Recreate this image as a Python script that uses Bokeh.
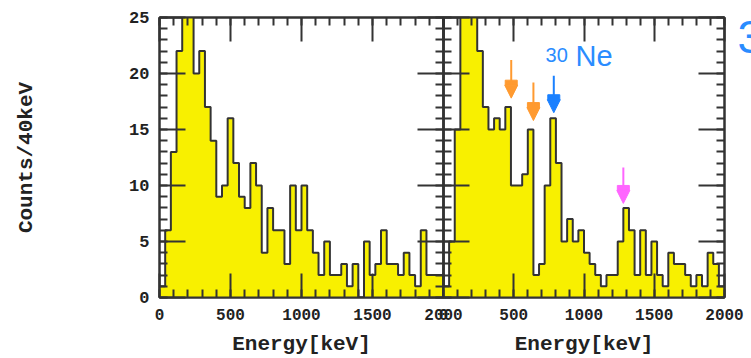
import numpy as np
from bokeh.plotting import figure
from bokeh.models import (ColumnDataSource, LinearAxis, SingleIntervalTicker, Range1d,
                          Label, Arrow, NormalHead)
from bokeh.layouts import row
from bokeh.embed import file_html
from bokeh.resources import INLINE

# ---------------- data (counts per 40 keV bin, 0-2000 keV) ----------------
BIN_WIDTH = 40
left_counts = [1, 6, 13, 22, 27, 27, 20, 22, 17, 14,
               9, 10, 16, 12, 9, 8, 12, 10, 4, 8,
               6, 6, 3, 10, 6, 10, 6, 4, 2, 5,
               2, 2, 3, 1, 3, 0, 5, 2, 3, 6,
               3, 3, 2, 4, 2, 1, 6, 2, 2, 2]
right_counts = [1, 5, 15, 27, 27, 27, 22, 17, 15, 16,
                15, 17, 10, 10, 11, 15, 2, 3, 10, 16,
                12, 5, 7, 5, 6, 4, 3, 2, 1, 2,
                2, 5, 8, 6, 2, 6, 2, 5, 2, 1,
                4, 3, 3, 2, 1, 2, 1, 4, 3, 1]
x_tick_interval = 500
y_tick_interval = 5

# arrows marking gamma lines in the right panel (energy, shaft top, tip)
arrow_energy = [482, 640, 785, 1280]
arrow_top = [21.2, 19.2, 19.8, 11.6]
arrow_tip = [17.8, 15.8, 16.5, 8.4]
arrow_color = ["#ff9a30", "#ff9a30", "#1a80ff", "#ff66ff"]

YELLOW = "#f8f000"
INK = "#333333"
BLUE = "#2a8cff"
FONT = "Liberation Mono"

H = 358
OVER = 30      # overlap so the shared "2000"/"0" labels are not clipped
RIGHT_PAD = 27


def style_axis(ax, interval, tick_in, labels, size="16px"):
    ax.ticker = SingleIntervalTicker(interval=interval, num_minor_ticks=5)
    ax.major_tick_in = tick_in
    ax.major_tick_out = 0
    ax.minor_tick_in = 8
    ax.minor_tick_out = 0
    ax.major_tick_line_color = INK
    ax.minor_tick_line_color = INK
    ax.major_tick_line_width = 2
    ax.minor_tick_line_width = 2
    ax.axis_line_color = INK
    ax.axis_line_width = 2
    if labels:
        ax.major_label_text_font = FONT
        ax.major_label_text_font_style = "bold"
        ax.major_label_text_font_size = size
        ax.major_label_text_color = "#222222"
        ax.major_label_standoff = 10
    else:
        ax.major_label_text_font_size = "1px"
        ax.major_label_text_color = None
        ax.major_label_standoff = 0


def panel(counts, width, b_left, b_right, ylabels):
    p = figure(width=width, height=H, x_range=Range1d(0, 2000), y_range=Range1d(0, 25),
               output_backend="svg", toolbar_location=None,
               min_border_left=b_left, min_border_right=b_right,
               min_border_top=17, min_border_bottom=60)
    p.grid.visible = False
    p.outline_line_color = INK
    p.outline_line_width = 2

    edges = [i * BIN_WIDTH for i in range(len(counts) + 1)]
    src = ColumnDataSource(dict(x=edges, y=list(counts) + [counts[-1]]))
    p.varea_step(x="x", y1=0, y2="y", step_mode="after", source=src, fill_color=YELLOW)
    p.step(x="x", y="y", mode="after", source=src, line_color=INK, line_width=2)

    xa = p.xaxis[0]
    style_axis(xa, x_tick_interval, 24, True)
    xa.major_label_standoff = 11
    style_axis(p.yaxis[0], y_tick_interval, 26, ylabels, "17px")
    top = LinearAxis()
    style_axis(top, x_tick_interval, 24, False)
    p.add_layout(top, "above")
    right = LinearAxis()
    style_axis(right, y_tick_interval, 26, False)
    p.add_layout(right, "right")

    xa.axis_label = "Energy[keV]"
    xa.axis_label_text_font = FONT
    xa.axis_label_text_font_style = "bold"
    xa.axis_label_text_font_size = "21px"
    xa.axis_label_text_color = "#222222"
    xa.axis_label_text_line_height = 0.8
    xa.axis_label_standoff = 10
    return p


p1 = panel(left_counts, 159 + 284 + OVER, 159, OVER, True)
ya = p1.yaxis[0]
ya.axis_label = "Counts/40keV"
ya.axis_label_text_font = FONT
ya.axis_label_text_font_style = "bold"
ya.axis_label_text_font_size = "21px"
ya.axis_label_text_color = "#222222"
ya.axis_label_standoff = 88

p2 = panel(right_counts, OVER + 281 + RIGHT_PAD, OVER, RIGHT_PAD, False)
p2.border_fill_color = None
p2.background_fill_color = None
p2.margin = (0, 0, 0, -2 * OVER)

for e, t, tip, c in zip(arrow_energy, arrow_top, arrow_tip, arrow_color):
    p2.add_layout(Arrow(end=NormalHead(size=13, fill_color=c, line_color=c),
                        x_start=e, y_start=t, x_end=e, y_end=tip,
                        line_color=c, line_width=2))
p2.rect(x=arrow_energy, y=[t + 1.38 for t in arrow_tip], width=12, height=5,
        width_units="screen", height_units="screen", color=arrow_color)

p2.add_layout(Label(x=726, y=21.0, text="30", text_font="Liberation Sans",
                    text_font_size="20px", text_color=BLUE))
p2.add_layout(Label(x=940, y=20.1, text="Ne", text_font="Liberation Sans",
                    text_font_size="29px", text_color=BLUE))

# thin transparent strip over the right margin, carrying the cut-off "3"
p3 = figure(width=RIGHT_PAD, height=H, x_range=Range1d(0, RIGHT_PAD), y_range=Range1d(0, H),
            output_backend="svg", toolbar_location=None, x_axis_type=None, y_axis_type=None,
            min_border=0, min_border_left=0, min_border_right=0,
            min_border_top=0, min_border_bottom=0)
p3.grid.visible = False
p3.outline_line_color = None
p3.border_fill_color = None
p3.background_fill_color = None
p3.margin = (0, 0, 0, -RIGHT_PAD)
p3.add_layout(Label(x=13, y=H - 5, text="3", text_font="Liberation Sans",
                    text_font_size="46px", text_color=BLUE, text_baseline="top"))

layout = row(p1, p2, p3)
open("out.html", "w").write(file_html(layout, INLINE))
